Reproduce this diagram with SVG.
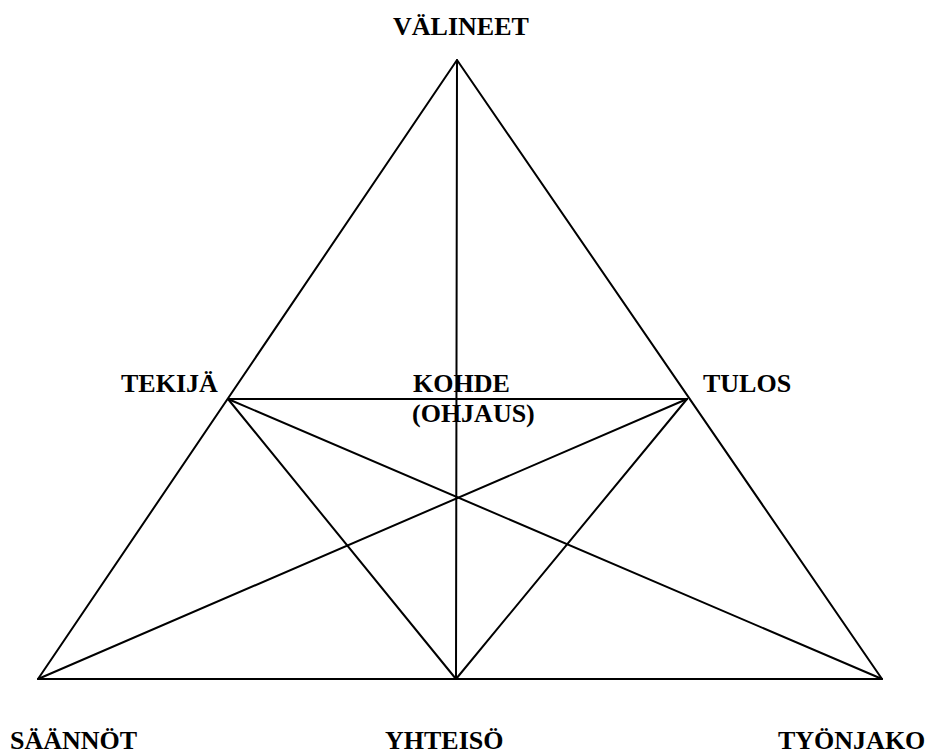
<svg xmlns="http://www.w3.org/2000/svg" width="928" height="756" viewBox="0 0 928 756">
<style>
.l{stroke:#000;stroke-width:2;fill:none;stroke-linecap:round;stroke-linejoin:round}
.t{font-family:"Liberation Serif","Times New Roman",serif;font-weight:bold;font-size:26px;fill:#000}
</style>
<rect width="928" height="756" fill="#fff"/>
<g id="connectors">
<polygon class="l" points="457,60 38,679 882,679"/>
<line class="l" x1="457" y1="60" x2="456" y2="679"/>
<line class="l" x1="228" y1="399" x2="687" y2="399"/>
<line class="l" x1="228" y1="399" x2="456" y2="679"/>
<line class="l" x1="228" y1="399" x2="882" y2="679"/>
<line class="l" x1="687" y1="399" x2="456" y2="679"/>
<line class="l" x1="687" y1="399" x2="38" y2="679"/>
</g>
<g id="valineet"><text class="t" x="393" y="35">VÄLINEET</text></g>
<g id="tekija"><text class="t" x="121" y="392">TEKIJÄ</text></g>
<g id="kohde"><text class="t" x="413" y="392">KOHDE</text><text class="t" x="412" y="422">(OHJAUS)</text></g>
<g id="tulos"><text class="t" x="703" y="392">TULOS</text></g>
<g id="saannot"><text class="t" x="10" y="749">SÄÄNNÖT</text></g>
<g id="yhteiso"><text class="t" x="385" y="749">YHTEISÖ</text></g>
<g id="tyonjako"><text class="t" x="778" y="749">TYÖNJAKO</text></g>
</svg>
